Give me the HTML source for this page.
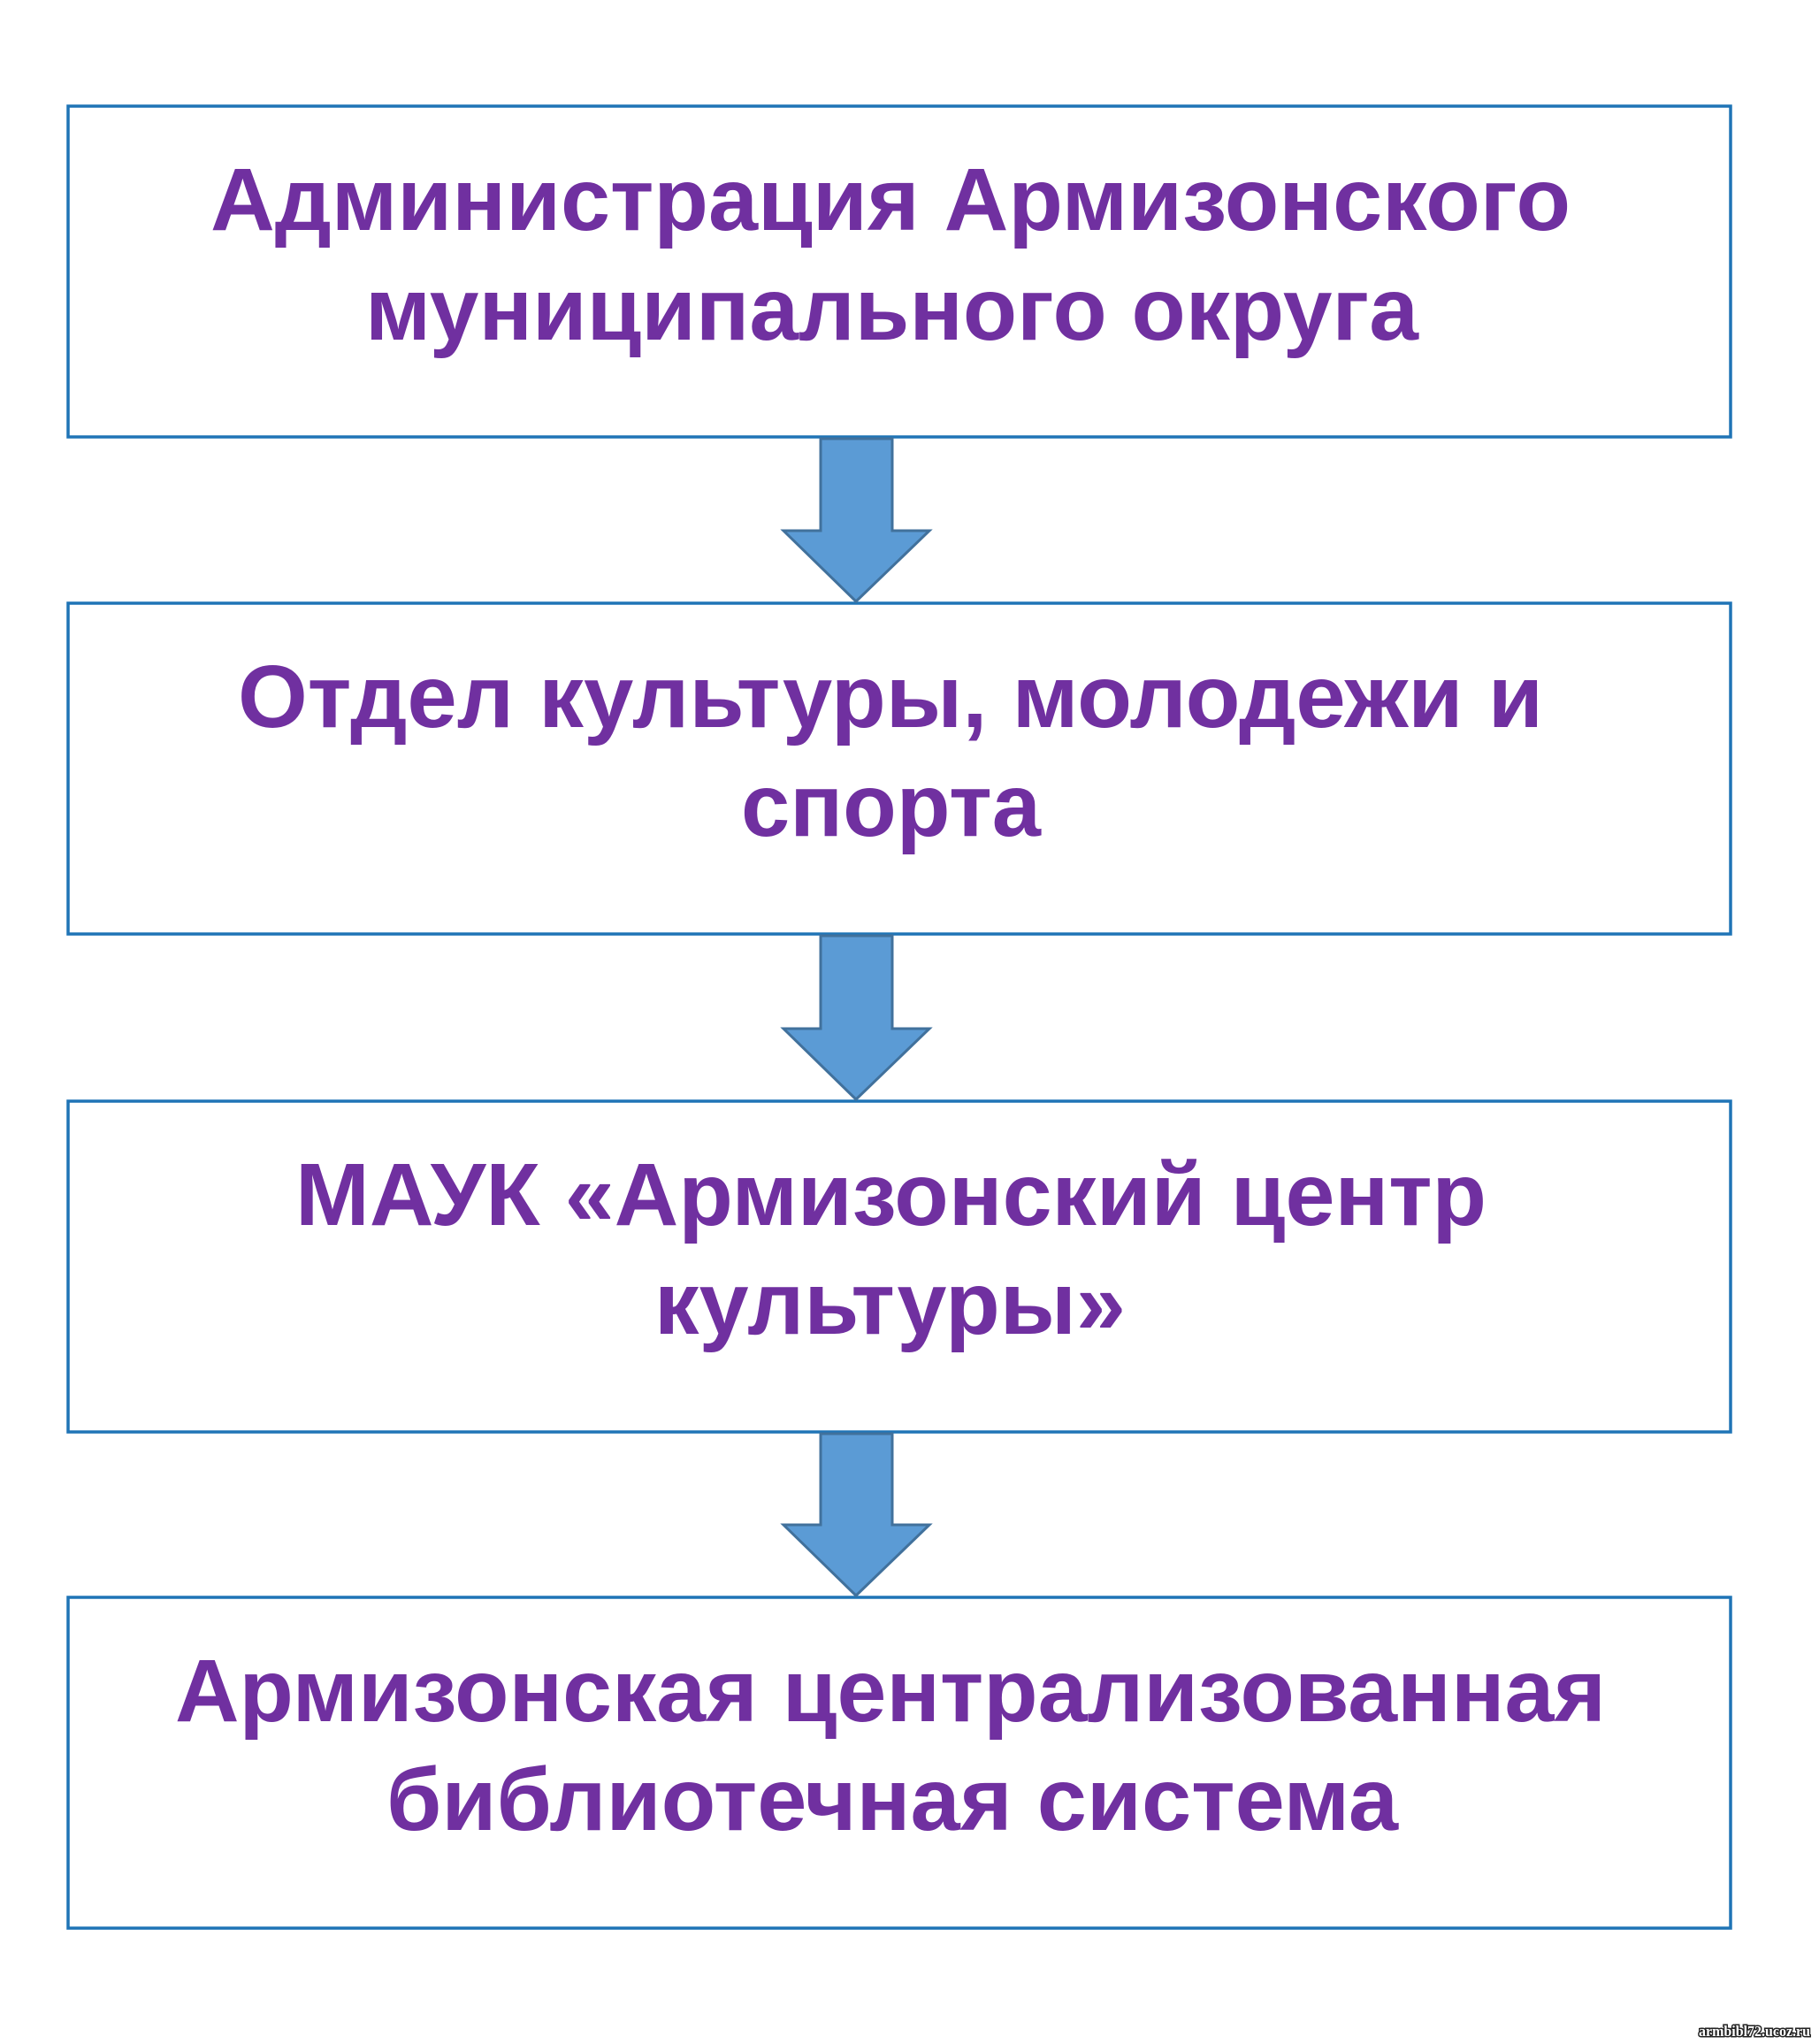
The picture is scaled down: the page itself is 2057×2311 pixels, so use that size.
<!DOCTYPE html>
<html><head><meta charset="utf-8"><style>html,body{margin:0;padding:0;background:#fff}svg{display:block}</style></head>
<body>
<svg width="2057" height="2311" viewBox="0 0 2057 2311" xmlns="http://www.w3.org/2000/svg">
<g fill="#fff" stroke="#1f74b6" stroke-width="3.5">
<rect x="77" y="120" width="1880" height="374"/>
<rect x="77" y="682" width="1880" height="374"/>
<rect x="77" y="1245" width="1880" height="374"/>
<rect x="77" y="1806" width="1880" height="374"/>
</g>
<g fill="#5b9bd5" stroke="#41719c" stroke-width="3">
<polygon points="928,496 1009,496 1009,600 1051,600 968,680 886,600 928,600"/>
<polygon points="928,1058 1009,1058 1009,1163 1051,1163 968,1243 886,1163 928,1163"/>
<polygon points="928,1621 1009,1621 1009,1724 1051,1724 968,1804 886,1724 928,1724"/>
</g>
<g font-family="'Liberation Sans', Arial, sans-serif" font-weight="bold" font-size="100" fill="#7030a0">
<text x="238" y="260" textLength="1538" lengthAdjust="spacingAndGlyphs">Администрация Армизонского</text>
<text x="413" y="384" textLength="1191" lengthAdjust="spacingAndGlyphs">муниципального округа</text>
<text x="269" y="822" textLength="1476" lengthAdjust="spacingAndGlyphs">Отдел культуры, молодежи и</text>
<text x="838" y="945" textLength="339" lengthAdjust="spacingAndGlyphs">спорта</text>
<text x="334" y="1385" textLength="1347" lengthAdjust="spacingAndGlyphs">МАУК «Армизонский центр</text>
<text x="740" y="1508" textLength="533" lengthAdjust="spacingAndGlyphs">культуры»</text>
<text x="198" y="1946" textLength="1618" lengthAdjust="spacingAndGlyphs">Армизонская централизованная</text>
<text x="437" y="2069" textLength="1144" lengthAdjust="spacingAndGlyphs">библиотечная система</text>
</g>
<text x="1921" y="2302" textLength="126" lengthAdjust="spacingAndGlyphs" font-family="'Liberation Serif', serif" font-size="17" font-weight="bold" fill="#fff" stroke="#222" stroke-width="3" paint-order="stroke">armbibl72.ucoz.ru</text>
</svg>
</body></html>
